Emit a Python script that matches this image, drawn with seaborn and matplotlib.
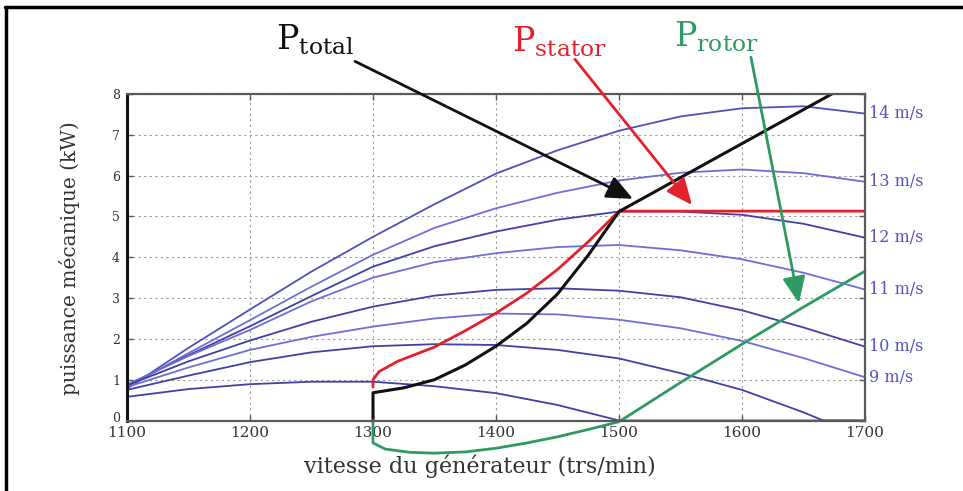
import matplotlib
matplotlib.use("Agg")
import matplotlib.pyplot as plt
import matplotlib.transforms as mtransforms
import seaborn as sns
from matplotlib.lines import Line2D

# Generator speed grid (trs/min)
rpm = [1100, 1150, 1200, 1250, 1300, 1350, 1400, 1450, 1500, 1550, 1600, 1650, 1700]

# Mechanical power (kW) for each wind speed
p_14 = [0.78, 1.78, 2.72, 3.65, 4.50, 5.30, 6.05, 6.62, 7.10, 7.45, 7.65, 7.70, 7.52]
p_13 = [0.82, 1.65, 2.46, 3.28, 4.06, 4.72, 5.20, 5.58, 5.88, 6.07, 6.15, 6.06, 5.85]
p_12 = [0.86, 1.60, 2.31, 3.05, 3.77, 4.27, 4.63, 4.92, 5.12, 5.12, 5.04, 4.82, 4.48]
p_11 = [0.88, 1.58, 2.22, 2.92, 3.50, 3.88, 4.10, 4.25, 4.30, 4.17, 3.95, 3.62, 3.21]
p_10 = [0.86, 1.45, 1.96, 2.42, 2.79, 3.06, 3.20, 3.24, 3.18, 3.02, 2.70, 2.28, 1.81]
p_9 = [0.82, 1.30, 1.73, 2.05, 2.30, 2.50, 2.62, 2.60, 2.47, 2.26, 1.95, 1.53, 1.06]
rpm_8 = [1100, 1150, 1200, 1250, 1300, 1350, 1400, 1450, 1500, 1550, 1600, 1650, 1666, 1700]
p_8 = [0.75, 1.10, 1.43, 1.67, 1.82, 1.87, 1.85, 1.73, 1.52, 1.16, 0.75, 0.20, 0.0, 0.0]
rpm_7 = [1100, 1150, 1200, 1250, 1300, 1350, 1400, 1450, 1500, 1700]
p_7 = [0.58, 0.77, 0.89, 0.95, 0.95, 0.84, 0.67, 0.38, 0.0, 0.0]

wind_labels = ["14 m/s", "13 m/s", "12 m/s", "11 m/s", "10 m/s", "9 m/s"]

# Operating trajectory: total, stator and rotor power
rpm_total = [1300, 1300, 1325, 1350, 1375, 1400, 1425, 1450, 1475, 1500, 1700]
p_total = [0.0, 0.68, 0.80, 1.00, 1.36, 1.82, 2.38, 3.10, 4.05, 5.12, 8.45]
rpm_stator = [1300, 1300, 1305, 1320, 1350, 1375, 1400, 1425, 1450, 1475, 1500, 1700]
p_stator = [0.82, 1.00, 1.20, 1.45, 1.80, 2.20, 2.63, 3.12, 3.70, 4.38, 5.13, 5.13]
rpm_rotor = [1300, 1300, 1310, 1330, 1350, 1375, 1400, 1425, 1450, 1475, 1500, 1550, 1600, 1650, 1700]
p_rotor = [0.0, -0.55, -0.70, -0.78, -0.80, -0.77, -0.68, -0.55, -0.40, -0.22, -0.03, 0.93, 1.87, 2.78, 3.66]

x_ticks = [1100, 1200, 1300, 1400, 1500, 1600, 1700]
y_ticks = [0, 1, 2, 3, 4, 5, 6, 7, 8]

sns.set_style("ticks")
plt.rcParams["font.family"] = ["DejaVu Serif"]
plt.rcParams["mathtext.fontset"] = "dejavuserif"

W, H = 963, 491
fig = plt.figure(figsize=(W / 100, H / 100), dpi=100)
ax = fig.add_axes([127 / W, 1 - 420.5 / H, 738 / W, 326.5 / H])

dark = "#4040a6"
light = "#6e6ed6"
curves = [
    (rpm, p_14, "#5050bc"),
    (rpm, p_13, light),
    (rpm, p_12, dark),
    (rpm, p_11, light),
    (rpm, p_10, dark),
    (rpm, p_9, light),
    (rpm_8, p_8, dark),
    (rpm_7, p_7, dark),
]
for xs, ys, c in curves:
    sns.lineplot(x=xs, y=ys, ax=ax, color=c, lw=1.3, sort=False, estimator=None)

sns.lineplot(x=rpm_stator, y=p_stator, ax=ax, color="#e3202c", lw=2.0, sort=False, estimator=None)
sns.lineplot(x=rpm_total, y=p_total, ax=ax, color="#111111", lw=2.2, sort=False, estimator=None)
sns.lineplot(x=rpm_rotor, y=p_rotor, ax=ax, color="#2e9a62", lw=2.0, sort=False, estimator=None)
ax.lines[-1].set_clip_on(False)

ax.set_xlim(1100, 1700)
ax.set_ylim(0, 8)
ax.set_xticks(x_ticks)
ax.set_yticks(y_ticks)
ax.set_xticklabels([str(v) for v in x_ticks], fontsize=11, color="#333333")
ax.set_yticklabels([str(v) for v in y_ticks], fontsize=9, color="#333333")
ax.tick_params(direction="in", length=4, top=True, right=True, width=1.0, colors="#555555")
ax.tick_params(axis="x", pad=4)
ax.tick_params(axis="y", pad=5)
for lab in ax.get_xticklabels() + ax.get_yticklabels():
    lab.set_color("#333333")
# lift the zero label clear of the first speed label
zero_lab = ax.get_yticklabels()[0]
zero_lab.set_transform(zero_lab.get_transform() +
                       mtransforms.ScaledTranslation(0, 4 / 100, fig.dpi_scale_trans))
ax.grid(True, color="#9a9a9a", linestyle=(0, (2, 3)), lw=0.8)
for side in ["top", "right", "bottom"]:
    ax.spines[side].set_color("#5a5a5a")
    ax.spines[side].set_linewidth(1.6)
ax.spines["left"].set_color("#111111")
ax.spines["left"].set_linewidth(2.2)

# wind speed labels at the right-hand end of each curve
for lab, ys in zip(wind_labels, [p_14, p_13, p_12, p_11, p_10, p_9]):
    ax.text(1703, ys[-1], lab, fontsize=11.5, color="#5454c6", ha="left", va="center")

ax.set_xlabel("")
ax.set_ylabel("")
fig.text(480 / W, 1 - 466 / H, "vitesse du générateur (trs/min)", fontsize=16,
         color="#333333", ha="center", va="center")
fig.text(70 / W, 1 - 258 / H, "puissance mécanique (kW)", fontsize=14.5, rotation=90,
         color="#333333", ha="center", va="center")

# power labels with arrows pointing at the curves
labels = [
    (r"$\mathrm{P}_{\mathrm{total}}$", "#111111", 276, 50, (1285.4, 8.8), (1511.4, 5.43)),
    (r"$\mathrm{P}_{\mathrm{stator}}$", "#e3202c", 512, 52, (1464.2, 8.85), (1559.3, 5.28)),
    (r"$\mathrm{P}_{\mathrm{rotor}}$", "#2e9a62", 674, 47, (1607.3, 8.9), (1646.3, 2.88)),
]
for txt, col, px, py, start, tip in labels:
    fig.text(px / W, 1 - py / H, txt, fontsize=24, color=col, ha="left", va="baseline")
    ax.annotate("", xy=tip, xytext=start, annotation_clip=False,
                arrowprops=dict(arrowstyle="-|>,head_length=0.8,head_width=0.35",
                                color=col, lw=2.0, mutation_scale=20, shrinkA=0, shrinkB=0))

# frame edges along the top and left of the figure
fig.add_artist(Line2D([5 / W, 1], [1 - 7 / H, 1 - 7 / H], transform=fig.transFigure, color="black", lw=2.5))
fig.add_artist(Line2D([6 / W, 6 / W], [0, 1 - 7 / H], transform=fig.transFigure, color="black", lw=2.5))

fig.savefig("out.png", dpi=100)
